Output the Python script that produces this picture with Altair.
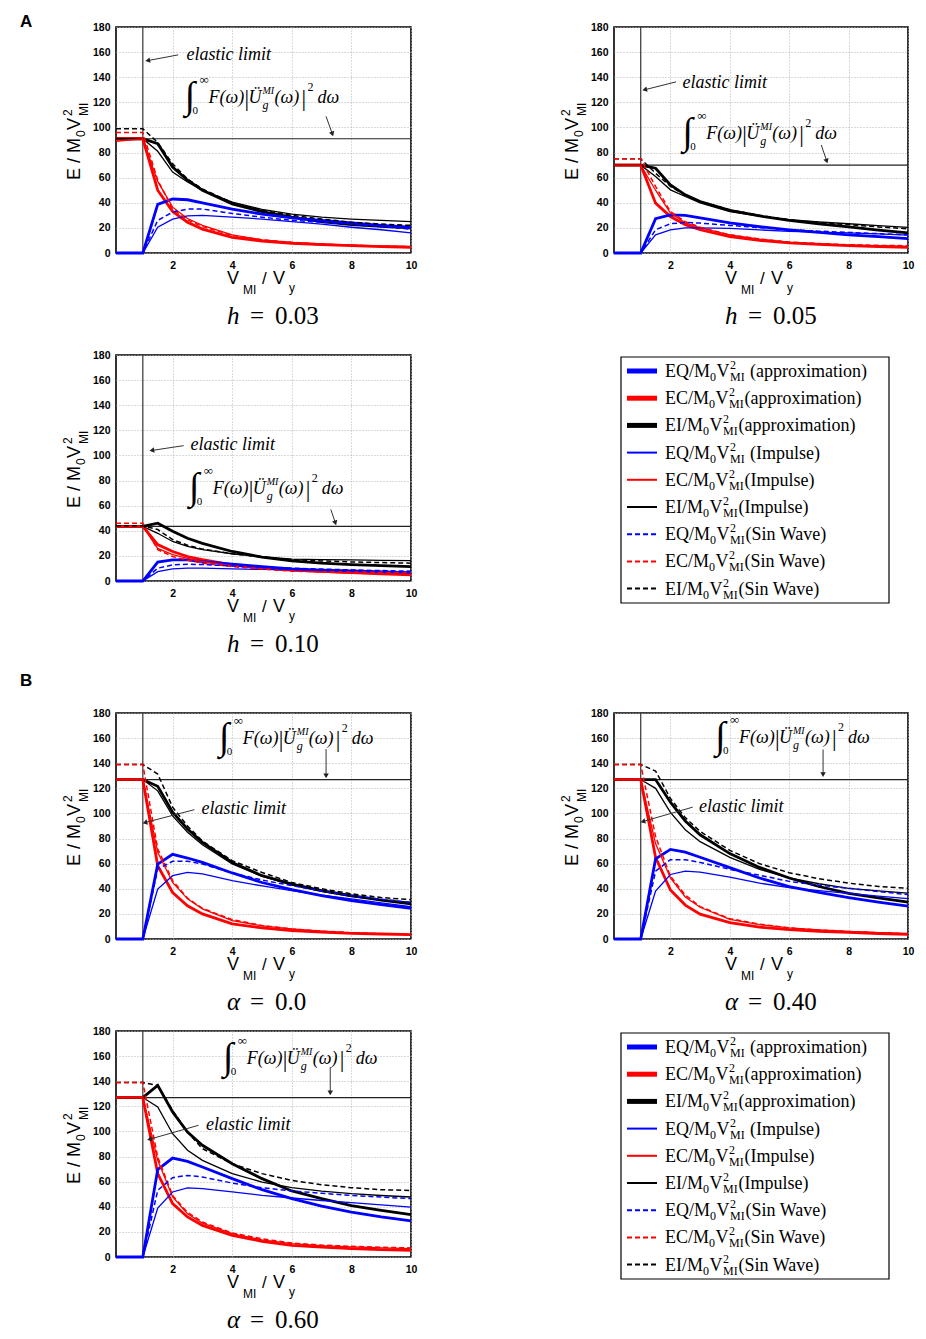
import math
import altair as alt
import pandas as pd

SANS = "Liberation Sans"
SERIF = "Liberation Serif"

X = [0.1, 1, 1.5, 2, 2.5, 3, 4, 5, 6, 7, 8, 9, 10]

# ---------------- h = 0.03 ----------------
h003_eq_apx = [0, 0, 38.7, 43, 42.4, 40, 35, 31, 28, 26, 24, 22, 20.5]
h003_eq_imp = [0, 0, 20.5, 27, 29.5, 30, 28.5, 27, 25, 23, 20.5, 18.5, 16]
h003_eq_sin = [0, 0, 26, 32.5, 35, 35, 31.5, 28.5, 26, 24.5, 23, 21, 19]
h003_ec_apx = [91, 91, 50, 33, 24.5, 19, 12.5, 9.5, 7.7, 6.6, 5.9, 5.1, 4.5]
h003_ec_imp = [89, 91, 57, 36.5, 27.5, 22, 14.4, 10.5, 8.5, 7.2, 6.3, 5.7, 5.3]
h003_ec_sin = [96, 96, 58, 35, 26.5, 21, 14, 10.5, 8.5, 7.1, 6.1, 5.5, 5]
h003_ei_apx = [91, 91, 87, 68.5, 58, 50, 39, 33, 28.5, 25, 22.7, 21.3, 20]
h003_ei_imp = [91, 91, 81, 64.5, 56.5, 50, 40.5, 34.7, 31, 28.5, 27, 26, 25]
h003_ei_sin = [99, 99, 88, 71, 59, 51, 40, 34, 30, 27, 24.5, 23, 22]
h003_input = 91

# ---------------- h = 0.05 ----------------
h005_eq_apx = [0, 0, 27.3, 30.4, 30, 28, 24, 21, 18.5, 16.5, 14.5, 13, 11.4]
h005_eq_imp = [0, 0, 14.5, 18.5, 20, 20, 19.6, 18.4, 17.2, 16.6, 16, 15.2, 14.3]
h005_eq_sin = [0, 0, 18.5, 23.3, 24.3, 23.8, 22, 20.2, 18.5, 17.4, 16.4, 15.4, 14.5]
h005_ec_apx = [70, 70, 39.7, 29, 22.5, 18.5, 13, 10, 8, 6.8, 5.8, 5.1, 4.5]
h005_ec_imp = [70, 70, 50, 31.8, 24, 20, 14.5, 11, 8.5, 7.2, 6.3, 5.8, 5.3]
h005_ec_sin = [75, 75, 53, 33, 25, 20.6, 14.5, 11.2, 8.7, 7.5, 6.6, 6.1, 5.8]
h005_ei_apx = [70, 70, 67.5, 54.3, 46.3, 41, 34, 29.5, 26, 23.2, 20.8, 18.2, 16]
h005_ei_imp = [70, 70, 61, 50.3, 45, 40, 33, 29.3, 26.5, 24.7, 23.3, 21.8, 20.4]
h005_ei_sin = [75, 75, 63.5, 53, 46, 41, 34.4, 30, 26.5, 24.2, 22.5, 20.8, 19.3]
h005_input = 70

# ---------------- h = 0.10 ----------------
h010_eq_apx = [0, 0, 15, 16.8, 16.8, 15.5, 13.4, 11.4, 9.6, 8.7, 8, 7.3, 6.7]
h010_eq_imp = [0, 0, 7.5, 9.6, 10.2, 10.2, 9.6, 9.2, 8.8, 8.4, 8, 7.6, 7.2]
h010_eq_sin = [0, 0, 10.2, 12.8, 13.4, 13.1, 12, 11, 10.2, 9.5, 8.8, 8.3, 7.8]
h010_ec_apx = [43.5, 43.5, 29, 23.5, 19.5, 17, 12.8, 10.5, 8.8, 7.6, 6.7, 5.7, 4.8]
h010_ec_imp = [43.5, 43.5, 26, 21, 18, 15.5, 12.3, 9.9, 8, 7, 6.2, 5.7, 5.3]
h010_ec_sin = [46, 46, 25, 19.5, 16.5, 14.2, 11.5, 9.5, 7.8, 7.4, 7.2, 6.9, 6.7]
h010_ei_apx = [43.5, 43.5, 46, 39.6, 34, 30, 23.5, 19, 16, 14.2, 13, 12.2, 11.5]
h010_ei_imp = [43.5, 43.5, 38, 31.5, 27.5, 25, 21.7, 19.3, 17.4, 17, 16.8, 16.5, 16.3]
h010_ei_sin = [44, 44, 41, 33, 28.5, 25.4, 21.7, 19, 17, 16, 15.2, 14.7, 14.2]
h010_input = 43.5

# ---------------- alpha = 0.0 ----------------
a000_eq_apx = [0, 0, 59.7, 67.4, 64.5, 61, 52.6, 45, 39.3, 34.5, 30.5, 27.3, 24.4]
a000_eq_imp = [0, 0, 39.8, 50.4, 53, 51.8, 46.5, 42.3, 38.5, 35, 31.9, 28.7, 25.7]
a000_eq_sin = [0, 0, 55.7, 61.9, 61.9, 59.7, 52.6, 47, 42.5, 38.3, 34.5, 31.7, 29.2]
a000_ec_apx = [127, 127, 58.4, 37, 26.5, 20, 12, 8.8, 6.6, 5.4, 4.5, 4, 3.5]
a000_ec_imp = [127, 127, 69, 45, 32, 24, 14.6, 10.5, 8, 6.2, 4.8, 4.1, 3.5]
a000_ec_sin = [139, 139, 71.7, 46.5, 32.5, 24.4, 15.4, 10.8, 8, 6.3, 5, 4.2, 3.5]
a000_ei_apx = [127, 127, 121.6, 101, 87.6, 77, 61, 50.4, 43.8, 38.6, 34.5, 31, 27.9]
a000_ei_imp = [127, 127, 118, 98, 85, 75, 59.7, 50, 43, 37.9, 33.7, 31.2, 29.2]
a000_ei_sin = [139, 139, 131.4, 105, 90, 78, 62.4, 53, 45, 40, 36, 33, 31.3]
a000_input = 127

# ---------------- alpha = 0.40 ----------------
a040_eq_apx = [0, 0, 63.8, 71.4, 69.2, 65.1, 56.9, 48.6, 41.8, 37.1, 33, 29.4, 26.1]
a040_eq_imp = [0, 0, 38.2, 51.4, 54.1, 53.3, 49.2, 44.5, 41, 38.5, 36.3, 34.2, 32.2]
a040_eq_sin = [0, 0, 54, 63.2, 63.2, 61, 55.5, 50.8, 45.9, 42.8, 40.4, 37.8, 35.4]
a040_ec_apx = [127, 127, 65, 39, 27, 19.8, 13, 9.5, 7.4, 6.1, 5.2, 4.4, 3.8]
a040_ec_imp = [127, 127, 76, 48.6, 33.5, 25.3, 15.7, 11.5, 8.8, 7.2, 6, 5, 4.1]
a040_ec_sin = [139, 139, 81.6, 50, 35, 25.8, 16.2, 11.8, 8.8, 7.2, 6, 5, 4.1]
a040_ei_apx = [127, 127, 127, 109, 94, 83, 68, 57, 48.6, 41.8, 36.3, 32.7, 29.4]
a040_ei_imp = [127, 127, 120, 100.8, 87, 77.5, 65, 55.5, 48.6, 44, 40.4, 38.3, 36.5]
a040_ei_sin = [139, 139, 133.8, 112, 96.7, 85.7, 70.6, 60, 52.8, 48, 44.5, 41.8, 40.4]
a040_input = 127

# ---------------- alpha = 0.60 ----------------
a060_eq_apx = [0, 0, 69.6, 78.8, 76.2, 71.7, 62.4, 53.6, 46.5, 40.6, 35.8, 31.9, 28.7]
a060_eq_imp = [0, 0, 39, 51.8, 55, 54.4, 51.8, 49.1, 47, 45, 43.3, 41.5, 39.8]
a060_eq_sin = [0, 0, 53.1, 63.2, 65, 63.7, 58.9, 55.2, 52.6, 50.7, 49.1, 47.7, 46.5]
a060_ec_apx = [127, 127, 66.4, 42.5, 31.9, 25.2, 17.3, 12.5, 9.3, 7.8, 6.6, 5.9, 5.3]
a060_ec_imp = [127, 127, 77, 47.8, 34.5, 27, 18.6, 13.7, 10.6, 9, 8, 7.2, 6.6]
a060_ec_sin = [139, 139, 79.6, 49, 35.5, 27.9, 19.1, 14.5, 11.1, 9.5, 8.5, 7.8, 7.2]
a060_ei_apx = [127, 127, 136.7, 115.5, 99.5, 89, 74.3, 62.4, 52.6, 46.5, 41, 37.2, 33.7]
a060_ei_imp = [127, 127, 119.5, 98.2, 85, 77, 66.4, 59.7, 55.2, 52.5, 50.4, 49, 47.8]
a060_ei_sin = [139, 139, 136.7, 116.8, 99.5, 86.3, 74.3, 66.4, 61, 57.6, 55.2, 53.6, 53]
a060_input = 127

CAPTIONS = [("h", "0.03"), ("h", "0.05"), ("h", "0.10"),
            ("\u03b1", "0.0"), ("\u03b1", "0.40"), ("\u03b1", "0.60")]

# annotation anchors (data coordinates)
ANN_H003 = dict(el_text=(2.47, 153.8), el_arrow=(2.19, 157.8, 1.11, 153.0),
                f_anchor=(2.40, 119.2), f_arrow=(7.15, 108.8, 7.38, 93.6))
ANN_H005 = dict(el_text=(2.41, 131.8), el_arrow=(2.19, 136.3, 1.08, 129.7),
                f_anchor=(2.40, 90.5), f_arrow=(7.08, 86.0, 7.28, 72.0))
ANN_H010 = dict(el_text=(2.60, 104.6), el_arrow=(2.37, 107.8, 1.25, 103.8),
                f_anchor=(2.54, 69.0), f_arrow=(7.31, 57.0, 7.48, 45.0))
ANN_A000 = dict(el_text=(2.97, 99.5), el_arrow=(2.73, 103.0, 1.02, 92.4),
                f_anchor=(3.55, 155.3), f_arrow=(7.15, 151.3, 7.15, 128.7))
ANN_A040 = dict(el_text=(2.96, 100.9), el_arrow=(2.75, 105.0, 1.02, 93.2),
                f_anchor=(3.50, 155.8), f_arrow=(7.14, 150.9, 7.14, 129.7))
ANN_A060 = dict(el_text=(3.12, 101.4), el_arrow=(2.87, 104.9, 1.17, 93.4),
                f_anchor=(3.68, 154.0), f_arrow=(7.29, 151.3, 7.29, 129.5))

# formula pieces: text, dx(px), dy(px), size, italic
FORMULA = [("\u222b", 0, 5, 38, False), ("\u221e", 15, -19, 13, False), ("0", 8, 11, 11, False),
           ("F(\u03c9)", 24, 0, 18, True), ("|", 60, 3, 23, False), ("\u00dc", 64, 0, 18, True),
           ("g", 78, 6, 12, True), ("MI", 78, -9, 10, True), ("(\u03c9)", 90, 0, 18, True),
           ("|", 117, 3, 23, False), ("2", 123, -12, 12, False), ("d\u03c9", 133, 0, 18, True)]

H = 226
STYLES = [("apx", 2.8, None), ("imp", 1.3, None), ("sin", 1.5, [5, 3])]
COLOR_SCALE = alt.Scale(domain=["EQ", "EC", "EI"], range=["#0000ff", "#ff0000", "#000000"])


def text_layers(pieces, XE, YE):
    df = pd.DataFrame(pieces)
    out = []
    for key, g in df.groupby(["mode", "font", "style", "weight", "angle"], sort=False):
        mode, font, style, weight, angle = key
        mk = alt.Chart(g.reset_index(drop=True)).mark_text(
            align="left", baseline="alphabetic", font=font, fontStyle=style,
            fontWeight=weight, angle=int(angle), color="black")
        if mode == "data":
            enc = dict(x=XE(), y=YE())
        else:
            enc = dict(x=alt.X("x:Q", scale=None), y=alt.Y("y:Q", scale=None))
        out.append(mk.encode(text="text:N", size=alt.Size("size:Q", scale=None), **enc))
    return out


def P(mode, x, y, text, size, font=SERIF, style="normal", weight="normal", angle=0):
    return dict(mode=mode, x=x, y=y, text=text, size=size, font=font,
                style=style, weight=weight, angle=angle)


def make_panel(series, integral, ann, W, caption, section=None, pin=False):
    sx = W / 9.9
    sy = H / 180.0
    xs = alt.Scale(domain=[0.1, 10], nice=False, zero=False)
    ys = alt.Scale(domain=[0, 180], nice=False, zero=False)
    xax = alt.Axis(values=[2, 4, 6, 8, 10], title=None, grid=True, ticks=False, domain=False,
                   labelFlush=False, labelPadding=7, format="d")
    yax = alt.Axis(values=list(range(0, 181, 20)), title=None, grid=True, ticks=False, domain=False,
                   labelFlush=False, labelPadding=6, format="d")

    def XE(f="x"):
        return alt.X(f + ":Q", scale=xs, axis=xax)

    def YE(f="y"):
        return alt.Y(f + ":Q", scale=ys, axis=yax)

    rows = []
    for (var, kind), vals in series:
        for xv, yv in zip(X, vals):
            rows.append({"x": xv, "y": yv, "var": var, "kind": kind})
    df = pd.DataFrame(rows)
    color = alt.Color("var:N", scale=COLOR_SCALE, legend=None)

    layers = []
    layers.append(alt.Chart(pd.DataFrame({"y": [integral]})).mark_rule(
        color="#222222", strokeWidth=1.2).encode(y=YE()))
    layers.append(alt.Chart(pd.DataFrame({"x": [1.0]})).mark_rule(
        color="#333333", strokeWidth=1.2).encode(x=XE()))
    for kind, sw, dash in STYLES:
        kw = dict(strokeWidth=sw)
        if dash:
            kw["strokeDash"] = dash
        layers.append(alt.Chart(df[df.kind == kind].reset_index(drop=True)).mark_line(**kw).encode(
            x=XE(), y=YE(), color=color))

    # arrows
    ar_rows, head_rows = [], []
    hh = 2.4
    for (x1, y1, x2, y2) in [ann["el_arrow"], ann["f_arrow"]]:
        dxp = (x2 - x1) * sx
        dyp = -(y2 - y1) * sy
        L = math.hypot(dxp, dyp)
        ux, uy = dxp / L, dyp / L
        xc = x2 - ux * hh / sx
        yc = y2 + uy * hh / sy
        ar_rows.append(dict(x=x1, y=y1, x2=xc, y2=yc))
        head_rows.append(dict(x=xc, y=yc, angle=math.degrees(math.atan2(ux, -uy)) % 360))
    layers.append(alt.Chart(pd.DataFrame(ar_rows)).mark_rule(color="#333333", strokeWidth=1).encode(
        x=XE(), y=YE(), x2="x2:Q", y2="y2:Q"))
    layers.append(alt.Chart(pd.DataFrame(head_rows)).mark_point(
        shape="triangle", filled=True, size=30, color="#222222", opacity=1).encode(
        x=XE(), y=YE(), angle=alt.Angle("angle:Q", scale=None)))

    pieces = []
    ex, ey = ann["el_text"]
    pieces.append(P("data", ex, ey, "elastic limit", 18, SERIF, "italic"))
    fx, fy = ann["f_anchor"]
    for (t, dx, dy, sz, it) in FORMULA:
        pieces.append(P("data", fx + dx / sx, fy - dy / sy, t, sz, SERIF, "italic" if it else "normal"))
    # y title (rotated)
    c = H / 2
    pieces.append(P("px", -36, c + 40, "E / M", 18, SANS, angle=270))
    pieces.append(P("px", -31, c - 3, "0", 12, SANS, angle=270))
    pieces.append(P("px", -36, c - 10, "V", 18, SANS, angle=270))
    pieces.append(P("px", -44, c - 24, "2", 12, SANS, angle=270))
    pieces.append(P("px", -28, c - 24, "MI", 12, SANS, angle=270))
    # x title
    pieces.append(P("px", 111, H + 31, "V", 18, SANS))
    pieces.append(P("px", 127, H + 41, "MI", 12, SANS))
    pieces.append(P("px", 146, H + 31, "/", 17, SANS))
    pieces.append(P("px", 157, H + 31, "V", 18, SANS))
    pieces.append(P("px", 173, H + 39, "y", 12, SANS))
    # caption
    sym, num = caption
    pieces.append(P("px", 111, H + 71, sym, 25, SERIF, "italic"))
    pieces.append(P("px", 134, H + 71, "=", 25, SERIF))
    pieces.append(P("px", 159, H + 71, num, 25, SERIF))
    if section:
        lab, yy = section
        pieces.append(P("px", -96, yy, lab, 17, SANS, weight="bold"))
    layers += text_layers(pieces, XE, YE)

    if pin:
        layers.append(alt.Chart(pd.DataFrame({"a": [0]})).mark_point(opacity=0, size=1).encode(
            x=alt.value(-106), y=alt.value(-17)))
    return alt.layer(*layers).properties(width=W, height=H)


def series_of(eq_apx, eq_imp, eq_sin, ec_apx, ec_imp, ec_sin, ei_apx, ei_imp, ei_sin):
    return [(("EI", "apx"), ei_apx), (("EC", "apx"), ec_apx), (("EQ", "apx"), eq_apx),
            (("EI", "imp"), ei_imp), (("EC", "imp"), ec_imp), (("EQ", "imp"), eq_imp),
            (("EI", "sin"), ei_sin), (("EC", "sin"), ec_sin), (("EQ", "sin"), eq_sin)]


TW = {"E": 611, "Q": 722, "C": 667, "I": 333, "/": 278, "M": 889}
LEG_ITEMS = [("EQ", "apx", "(approximation)", True), ("EC", "apx", "(approximation)", False),
             ("EI", "apx", "(approximation)", False), ("EQ", "imp", "(Impulse)", True),
             ("EC", "imp", "(Impulse)", False), ("EI", "imp", "(Impulse)", False),
             ("EQ", "sin", "(Sin Wave)", False), ("EC", "sin", "(Sin Wave)", False),
             ("EI", "sin", "(Sin Wave)", False)]
COLMAP = {"EQ": "#0000ff", "EC": "#ff0000", "EI": "#000000"}


def legend_panel(W):
    layers = []
    layers.append(alt.Chart(pd.DataFrame({"a": [0]})).mark_rect(
        fill="white", stroke="black", strokeWidth=1.2).encode(
        x=alt.value(7), x2=alt.value(275), y=alt.value(2), y2=alt.value(248)))
    line_rows = []
    pieces = []
    x0 = 51
    for i, (var, kind, suffix, space) in enumerate(LEG_ITEMS):
        yc = 16 + i * 27.2
        yb = yc + 6
        line_rows.append(dict(x1=13, x2=43, y=yc, c=COLMAP[var], kind=kind))
        prefix = var + "/M"
        wp = sum(TW[ch] for ch in prefix) * 18 / 1000.0
        xs0 = x0 + wp
        xv = xs0 + 6.5
        x2 = xv + 13.5
        xsuf = x2 + 15.5 + (4.5 if space else 0)
        pieces += [P("px", x0, yb, prefix, 18), P("px", xs0, yb + 4, "0", 12),
                   P("px", xv, yb, "V", 18), P("px", x2, yb - 8, "2", 12),
                   P("px", x2, yb + 4, "MI", 12), P("px", xsuf, yb, suffix, 18)]
    ldf = pd.DataFrame(line_rows)
    for kind, sw, dash in [("apx", 5, None), ("imp", 2, None), ("sin", 2, [5, 3])]:
        kw = dict(strokeWidth=sw)
        if dash:
            kw["strokeDash"] = dash
        layers.append(alt.Chart(ldf[ldf.kind == kind].reset_index(drop=True)).mark_rule(**kw).encode(
            x=alt.X("x1:Q", scale=None), x2=alt.X2("x2:Q"), y=alt.Y("y:Q", scale=None),
            color=alt.Color("c:N", scale=None)))
    layers += text_layers(pieces, None, None)
    return alt.layer(*layers).properties(width=W, height=H,
                                         view=alt.ViewBackground(stroke="transparent"))


def filler(h):
    return alt.Chart(pd.DataFrame({"a": [0]})).mark_point(opacity=0).encode(
        x=alt.value(0), y=alt.value(0)).properties(
        width=1, height=h, view=alt.ViewBackground(stroke="transparent"))


WL, WR = 295, 294
pA1 = make_panel(series_of(h003_eq_apx, h003_eq_imp, h003_eq_sin, h003_ec_apx, h003_ec_imp, h003_ec_sin,
                           h003_ei_apx, h003_ei_imp, h003_ei_sin), h003_input, ANN_H003, WL, CAPTIONS[0],
                 section=("A", 0), pin=True)
pA2 = make_panel(series_of(h005_eq_apx, h005_eq_imp, h005_eq_sin, h005_ec_apx, h005_ec_imp, h005_ec_sin,
                           h005_ei_apx, h005_ei_imp, h005_ei_sin), h005_input, ANN_H005, WR, CAPTIONS[1])
pA3 = make_panel(series_of(h010_eq_apx, h010_eq_imp, h010_eq_sin, h010_ec_apx, h010_ec_imp, h010_ec_sin,
                           h010_ei_apx, h010_ei_imp, h010_ei_sin), h010_input, ANN_H010, WL, CAPTIONS[2])
pB1 = make_panel(series_of(a000_eq_apx, a000_eq_imp, a000_eq_sin, a000_ec_apx, a000_ec_imp, a000_ec_sin,
                           a000_ei_apx, a000_ei_imp, a000_ei_sin), a000_input, ANN_A000, WL, CAPTIONS[3],
                 section=("B", -27))
pB2 = make_panel(series_of(a040_eq_apx, a040_eq_imp, a040_eq_sin, a040_ec_apx, a040_ec_imp, a040_ec_sin,
                           a040_ei_apx, a040_ei_imp, a040_ei_sin), a040_input, ANN_A040, WR, CAPTIONS[4])
pB3 = make_panel(series_of(a060_eq_apx, a060_eq_imp, a060_eq_sin, a060_ec_apx, a060_ec_imp, a060_ec_sin,
                           a060_ei_apx, a060_ei_imp, a060_ei_sin), a060_input, ANN_A060, WL, CAPTIONS[5])

chart = alt.concat(
    pA1, pA2, filler(14), filler(14),
    pA3, legend_panel(WR), filler(44), filler(44),
    pB1, pB2, filler(4), filler(4),
    pB3, legend_panel(WR),
    columns=2, spacing={"row": 44, "column": 203}, bounds="flush", align="each",
).properties(padding=0).configure_view(
    stroke="black", strokeWidth=1.6
).configure_axis(
    labelFont=SANS, labelFontSize=10.5, labelFontWeight="bold", labelColor="black",
    gridColor="#b4b4b4", gridDash=[1, 2], gridWidth=1
)

chart.save("out.html", embed_options={"renderer": "svg", "actions": False})
